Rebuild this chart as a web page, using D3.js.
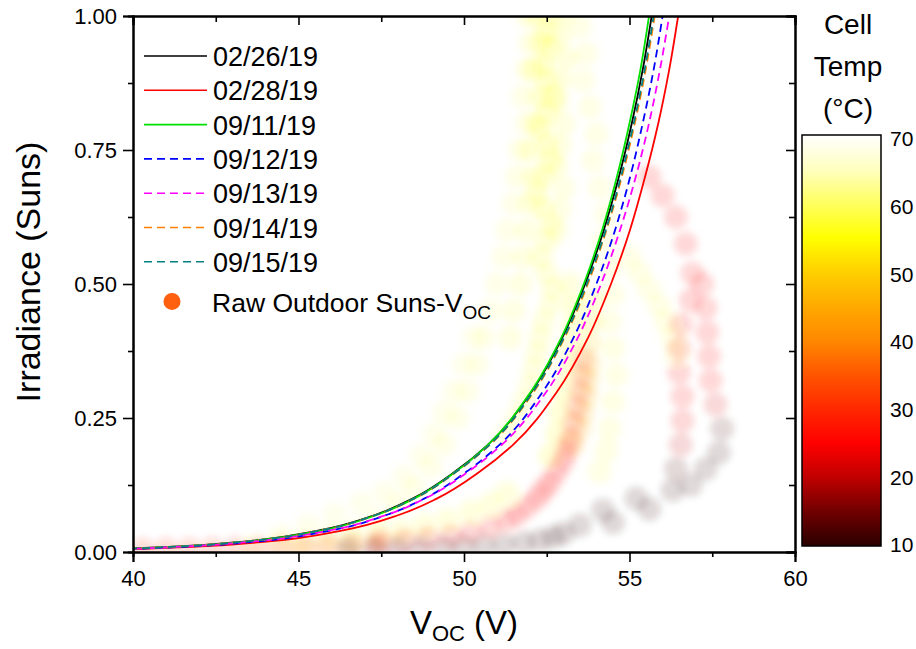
<!DOCTYPE html>
<html>
<head>
<meta charset="utf-8">
<script src="https://d3js.org/d3.v7.min.js"></script>
<style>
  body { margin: 0; background: #fff; }
  text { font-family: Arial, "Liberation Sans", sans-serif; fill: #000; }
</style>
</head>
<body>
<script>
// fitted Suns-Voc curves: irradiance levels and Voc per date
var irrLevels = [0.005, 0.006, 0.01, 0.02, 0.04, 0.07, 0.1, 0.15, 0.2, 0.3, 0.4, 0.5, 0.6, 0.7, 0.8, 0.9, 1.0];
var voc_0226 = [39.09, 39.66, 41.26, 43.43, 45.59, 47.35, 48.46, 49.73, 50.72, 52.05, 52.97, 53.66, 54.22, 54.68, 55.07, 55.40, 55.67];
var voc_0228 = [39.73, 40.30, 41.92, 44.11, 46.30, 48.07, 49.19, 50.48, 51.48, 52.82, 53.75, 54.44, 55.01, 55.47, 55.87, 56.20, 56.47];
var voc_0911 = [39.27, 39.83, 41.41, 43.54, 45.68, 47.40, 48.50, 49.75, 50.72, 52.03, 52.94, 53.62, 54.17, 54.62, 55.00, 55.33, 55.59];
var voc_0912 = [39.47, 40.04, 41.63, 43.79, 45.96, 47.70, 48.81, 50.08, 51.07, 52.39, 53.31, 54.00, 54.56, 55.02, 55.40, 55.73, 56.00];
var voc_0913 = [39.25, 39.83, 41.46, 43.68, 45.90, 47.69, 48.83, 50.13, 51.14, 52.50, 53.44, 54.14, 54.71, 55.19, 55.59, 55.92, 56.20];
var voc_0914 = [39.07, 39.64, 41.25, 43.44, 45.62, 47.38, 48.51, 49.78, 50.78, 52.12, 53.04, 53.74, 54.30, 54.77, 55.16, 55.49, 55.76];
var voc_0915 = [39.09, 39.67, 41.27, 43.45, 45.62, 47.38, 48.50, 49.77, 50.77, 52.10, 53.02, 53.71, 54.28, 54.74, 55.13, 55.46, 55.73];

var curves = [
  { name: "02/26/19", voc: voc_0226, color: "#000000", dash: null },
  { name: "02/28/19", voc: voc_0228, color: "#ff0000", dash: null },
  { name: "09/11/19", voc: voc_0911, color: "#00e000", dash: null },
  { name: "09/12/19", voc: voc_0912, color: "#0000ff", dash: "8,5" },
  { name: "09/13/19", voc: voc_0913, color: "#ff00ff", dash: "8,5" },
  { name: "09/14/19", voc: voc_0914, color: "#ff8000", dash: "8,5" },
  { name: "09/15/19", voc: voc_0915, color: "#008080", dash: "8,5" }
];

// raw outdoor Suns-Voc points: [Voc, irradiance, cell temp]
var rawYellowColumn = [[52.6,1.0,55],[52.5,0.97,55],[52.6,0.94,55],[52.4,0.91,55],[52.5,0.88,55],[52.7,0.85,55],[52.5,0.82,56],[52.3,0.79,56],[52.5,0.76,56],[52.6,0.73,56],[52.4,0.70,56],[52.2,0.67,56],[52.4,0.64,56],[52.6,0.61,57],[52.5,0.58,57],[52.3,0.55,57],[52.5,0.52,57],[52.7,0.49,57],[52.6,0.46,58],[52.4,0.43,58],[52.3,0.40,58],[52.2,0.37,58],[52.1,0.34,59],[52.0,0.31,59],[51.8,0.28,59],[51.6,0.25,59],[51.3,0.22,59]];
var rawYellowColumn2 = [[53.0,1.0,57],[52.9,0.96,57],[53.1,0.92,57],[52.9,0.88,57],[52.8,0.84,58],[53.0,0.80,58],[52.9,0.76,58],[52.8,0.72,58],[53.0,0.68,59],[52.9,0.64,59],[52.8,0.60,59]];
var rawYellowColumn3 = [[52.2,1.0,56],[52.3,0.95,56],[52.1,0.9,56],[52.3,0.85,56],[52.2,0.8,57],[52.0,0.75,57],[52.1,0.7,57],[52.0,0.65,57],[51.9,0.6,58],[51.8,0.55,58],[51.7,0.5,58],[51.5,0.45,58],[51.4,0.4,58]];
var rawCreamLeft = [[51.9,1.0,60],[52.0,0.95,60],[51.9,0.9,60],[51.8,0.85,60],[51.9,0.8,60],[51.7,0.75,60],[51.6,0.7,60],[51.5,0.65,61],[51.3,0.6,61],[51.2,0.55,61],[51.0,0.5,61],[50.8,0.45,61],[50.6,0.4,61],[50.4,0.35,61],[50.1,0.3,61],[49.8,0.25,61],[49.4,0.2,61],[49.0,0.16,61],[48.5,0.12,61],[48.0,0.09,61],[47.4,0.06,61],[46.7,0.04,61],[46.0,0.03,61],[45.2,0.02,61],[44.4,0.015,61],[43.6,0.01,61]];
var rawCreamRight = [[53.5,0.98,60],[53.7,0.93,60],[53.6,0.88,60],[53.8,0.83,60],[54.0,0.78,60],[53.9,0.73,60],[54.1,0.68,60],[54.3,0.63,60],[54.2,0.58,60],[54.4,0.53,60],[54.5,0.48,60],[54.4,0.43,60],[54.5,0.38,59],[54.6,0.33,59],[54.5,0.28,59],[54.4,0.23,59],[54.3,0.19,59],[54.1,0.15,59]];
var rawYellowRight = [[52.6,0.18,56],[52.8,0.22,56],[52.9,0.26,56],[53.0,0.3,56],[53.1,0.34,56],[53.2,0.38,56],[53.3,0.42,56],[53.3,0.46,56],[53.2,0.5,57]];
var rawOrange = [[53.3,0.2,46],[53.5,0.23,46],[53.6,0.26,47],[53.7,0.29,47],[53.75,0.32,48],[53.8,0.35,49],[53.8,0.39,50],[53.85,0.43,52],[53.9,0.47,54]];
var rawCreamLow = [[44.5,0.03,62],[45.3,0.05,62],[46.1,0.07,62],[46.9,0.09,62],[47.6,0.11,62],[48.2,0.14,62],[48.7,0.18,62],[49.1,0.22,62],[49.4,0.26,62],[49.7,0.3,62],[50.0,0.35,62],[50.3,0.4,62]];
var rawYellowLow = [[45.0,0.01,58],[45.8,0.015,58],[46.6,0.02,58],[47.4,0.03,57],[48.1,0.04,57],[48.8,0.05,57],[49.5,0.06,57],[50.2,0.075,57],[50.8,0.09,57],[51.3,0.11,57]];
var rawCreamFar = [[55.0,0.55,60],[55.3,0.52,60],[55.6,0.49,60],[55.9,0.46,60],[56.1,0.43,60],[56.3,0.4,60],[56.4,0.37,60]];
var rawRedLow = [[47.5,0.02,26],[48.2,0.022,26],[48.9,0.026,26],[49.6,0.03,26],[50.2,0.037,26],[50.8,0.048,26],[51.3,0.06,25],[51.6,0.07,25],[51.9,0.085,25],[52.2,0.1,25],[52.4,0.115,25],[52.6,0.13,26],[52.8,0.15,26],[53.0,0.17,27],[53.1,0.19,27],[53.2,0.21,28],[53.3,0.24,29],[53.4,0.27,30],[53.5,0.3,31],[53.55,0.33,32],[53.6,0.36,33]];
var rawRedBottom = [[40.3,0.004,30],[41.0,0.005,30],[41.7,0.005,30],[42.4,0.006,30],[43.1,0.007,30],[43.8,0.008,30],[44.5,0.009,30],[45.2,0.01,30],[45.9,0.012,30],[46.6,0.014,30],[47.3,0.016,30]];
var rawGrayBottom = [[46.5,0.004,10],[47.3,0.005,10],[48.0,0.006,10],[48.7,0.007,10],[49.4,0.008,10],[50.0,0.01,10],[50.6,0.012,10],[51.2,0.015,10],[51.8,0.018,10],[52.3,0.022,10],[52.7,0.028,10],[53.0,0.035,10]];
var rawGraySparse = [[53.5,0.05,10],[54.2,0.078,10],[54.5,0.055,10],[55.2,0.1,10],[55.6,0.08,10]];
var rawRightA = [[55.6,0.7,25],[56.0,0.665,25],[56.4,0.625,25],[56.7,0.575,25],[56.9,0.52,25],[56.85,0.47,25],[56.55,0.425,25],[56.5,0.38,25],[56.5,0.335,25],[56.6,0.29,25],[56.6,0.245,24],[56.55,0.2,20],[56.4,0.155,12],[56.3,0.115,11]];
var rawRightB = [[57.2,0.5,26],[57.3,0.455,26],[57.35,0.41,26],[57.4,0.365,26],[57.45,0.32,25],[57.6,0.275,22],[57.8,0.23,12],[57.7,0.185,11],[57.3,0.155,11],[56.85,0.125,11]];

var rawTrails = [rawCreamLeft, rawCreamLow, rawYellowLow, rawCreamRight, rawCreamFar, rawYellowColumn, rawYellowColumn2,
  rawYellowColumn3, rawYellowRight, rawOrange, rawRedBottom, rawRedLow, rawGrayBottom, rawGraySparse, rawRightA, rawRightB];

var xTicks = [40, 45, 50, 55, 60];
var yTicks = [0, 0.25, 0.5, 0.75, 1.0];
var tempTicks = [10, 20, 30, 40, 50, 60, 70];
var tempStops = [10, 15, 20, 25, 30, 35, 40, 45, 50, 55, 60, 65, 70];
var tempColors = ["#2a0000", "#700000", "#c00000", "#ff0000", "#ff2800", "#ff5500", "#ff8800",
                  "#ffaa00", "#ffd000", "#ffff00", "#ffff60", "#ffffc0", "#ffffff"];

var W = 916, H = 649;
var pL = 133, pR = 795, pT = 16, pB = 552;

var svg = d3.select("body").append("svg").attr("width", W).attr("height", H);

var x = d3.scaleLinear().domain([40, 60]).range([pL, pR]);
var y = d3.scaleLinear().domain([0, 1]).range([pB, pT]);
var color = d3.scaleLinear().domain(tempStops).range(tempColors);

var defs = svg.append("defs");
defs.append("clipPath").attr("id", "plotclip")
  .append("rect").attr("x", pL).attr("y", pT).attr("width", pR - pL).attr("height", pB - pT);
defs.append("filter").attr("id", "soft")
  .attr("x", "-10%").attr("y", "-10%").attr("width", "120%").attr("height", "120%")
  .append("feGaussianBlur").attr("stdDeviation", 3.5);

var plot = svg.append("g").attr("clip-path", "url(#plotclip)");

// raw points, faint and overlapping
var rawPts = [].concat.apply([], rawTrails);
plot.append("g").attr("filter", "url(#soft)").selectAll("circle")
  .data(rawPts).enter().append("circle")
    .attr("cx", function(d) { return x(d[0]); })
    .attr("cy", function(d) { return y(d[1]); })
    .attr("r", 12)
    .attr("fill", function(d) { return color(d[2]); })
    .attr("fill-opacity", 0.15);

var line = d3.line()
  .x(function(d) { return x(d[0]); })
  .y(function(d) { return y(d[1]); })
  .curve(d3.curveMonotoneY);

curves.forEach(function(c) {
  var pts = c.voc.map(function(v, i) { return [v, irrLevels[i]]; });
  plot.append("path")
    .attr("d", line(pts))
    .attr("fill", "none")
    .attr("stroke", c.color)
    .attr("stroke-width", 1.8)
    .attr("stroke-dasharray", c.dash);
});

// axes, Origin style box
var xMinor = d3.range(42.5, 60, 5);
var yMinor = [0.125, 0.375, 0.625, 0.875];
function styleAxis(g) {
  g.select(".domain").attr("stroke-width", 2);
  g.selectAll(".tick line").attr("stroke-width", 1.6);
  g.selectAll("text").attr("font-size", 22).attr("font-family", "Arial, 'Liberation Sans', sans-serif");
}

svg.append("g").attr("transform", "translate(0," + pB + ")")
  .call(d3.axisBottom(x).tickValues(xTicks).tickSize(10).tickPadding(8).tickFormat(d3.format("d")))
  .call(styleAxis);
svg.append("g").attr("transform", "translate(0," + pB + ")")
  .call(d3.axisBottom(x).tickValues(xMinor).tickSize(5).tickFormat(""))
  .call(styleAxis);
svg.append("g").attr("transform", "translate(" + pL + ",0)")
  .call(d3.axisLeft(y).tickValues(yTicks).tickSize(10).tickPadding(6).tickFormat(d3.format(".2f")))
  .call(styleAxis);
svg.append("g").attr("transform", "translate(" + pL + ",0)")
  .call(d3.axisLeft(y).tickValues(yMinor).tickSize(5).tickFormat(""))
  .call(styleAxis);
svg.append("g").attr("transform", "translate(0," + pT + ")")
  .call(d3.axisTop(x).tickValues(xTicks).tickSize(-9).tickFormat(""))
  .call(styleAxis);
svg.append("g").attr("transform", "translate(0," + pT + ")")
  .call(d3.axisTop(x).tickValues(xMinor).tickSize(-6).tickFormat(""))
  .call(styleAxis);
svg.append("g").attr("transform", "translate(" + pR + ",0)")
  .call(d3.axisRight(y).tickValues(yTicks).tickSize(-9).tickFormat(""))
  .call(styleAxis);
svg.append("g").attr("transform", "translate(" + pR + ",0)")
  .call(d3.axisRight(y).tickValues(yMinor).tickSize(-6).tickFormat(""))
  .call(styleAxis);

// axis titles
svg.append("text")
  .attr("transform", "translate(40,272) rotate(-90)")
  .attr("text-anchor", "middle")
  .attr("font-size", 34)
  .text("Irradiance (Suns)");

var xt = svg.append("text")
  .attr("x", 464).attr("y", 634)
  .attr("text-anchor", "middle")
  .attr("font-size", 33);
xt.append("tspan").text("V");
xt.append("tspan").attr("font-size", 22).attr("dy", 7).text("OC");
xt.append("tspan").attr("dy", -7).text(" (V)");

// legend
var leg = svg.append("g");
curves.forEach(function(c, i) {
  var ly = 56 + i * 34.3;
  leg.append("line")
    .attr("x1", 144).attr("x2", 207).attr("y1", ly).attr("y2", ly)
    .attr("stroke", c.color).attr("stroke-width", 1.6)
    .attr("stroke-dasharray", c.dash);
  leg.append("text")
    .attr("x", 213).attr("y", ly + 10)
    .attr("font-size", 27)
    .text(c.name);
});
leg.append("circle").attr("cx", 172).attr("cy", 301.5).attr("r", 8.5).attr("fill", "#ff6010");
var lt = leg.append("text").attr("x", 212).attr("y", 312).attr("font-size", 26.5);
lt.append("tspan").text("Raw Outdoor Suns-V");
lt.append("tspan").attr("font-size", 19).attr("dy", 7).text("OC");

// colour bar
var cbX = 802, cbW = 79, cbTop = 135, cbBot = 546;
var ct = d3.scaleLinear().domain([10, 70]).range([545, 139]);
var grad = defs.append("linearGradient")
  .attr("id", "tempgrad").attr("x1", 0).attr("x2", 0).attr("y1", 1).attr("y2", 0);
d3.range(10, 70.1, 1).forEach(function(t) {
  grad.append("stop").attr("offset", ((t - 10) / 60 * 100) + "%").attr("stop-color", color(t));
});
svg.append("rect")
  .attr("x", cbX).attr("y", cbTop).attr("width", cbW).attr("height", cbBot - cbTop)
  .attr("fill", "url(#tempgrad)").attr("stroke", "#000").attr("stroke-width", 1.5);
svg.append("g").selectAll("text")
  .data(tempTicks).enter().append("text")
    .attr("x", 890).attr("y", function(d) { return ct(d); })
    .attr("dy", "0.35em")
    .attr("font-size", 21)
    .text(function(d) { return d; });
["Cell", "Temp", "(\u00b0C)"].forEach(function(s, i) {
  svg.append("text")
    .attr("x", 848).attr("y", 34 + i * 42)
    .attr("text-anchor", "middle")
    .attr("font-size", 28)
    .text(s);
});
</script>
</body>
</html>
